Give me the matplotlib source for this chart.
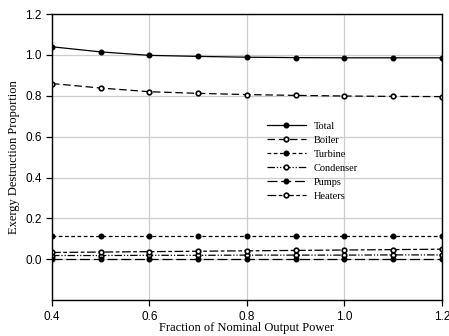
import matplotlib
matplotlib.use("Agg")
import matplotlib.pyplot as plt

# fraction of nominal output power
load = [0.4, 0.5, 0.6, 0.7, 0.8, 0.9, 1.0, 1.1, 1.2]

total = [1.040, 1.015, 0.998, 0.993, 0.989, 0.987, 0.986, 0.986, 0.986]
boiler = [0.860, 0.838, 0.820, 0.812, 0.806, 0.802, 0.799, 0.797, 0.796]
turbine = [0.113, 0.113, 0.113, 0.113, 0.113, 0.113, 0.113, 0.113, 0.113]
condenser = [0.018, 0.018, 0.019, 0.019, 0.020, 0.020, 0.020, 0.021, 0.021]
pumps = [0.002, 0.002, 0.002, 0.002, 0.002, 0.002, 0.002, 0.002, 0.002]
heaters = [0.033, 0.035, 0.037, 0.039, 0.041, 0.043, 0.045, 0.047, 0.049]

xticks = [0.4, 0.6, 0.8, 1.0, 1.2]
yticks = [0.0, 0.2, 0.4, 0.6, 0.8, 1.0, 1.2]

fig = plt.figure(figsize=(4.49, 3.36), dpi=100)
ax = fig.add_axes([0.1158, 0.107, 0.8686, 0.851])

filled = dict(marker="o", markersize=3.3, markerfacecolor="black", markeredgecolor="black", color="black", linewidth=0.9)
hollow = dict(marker="o", markersize=3.3, markerfacecolor="white", markeredgecolor="black", markeredgewidth=1.2,
              color="black", linewidth=0.9)

ax.plot(load, total, linestyle="-", label="Total", **filled)
ax.plot(load, boiler, linestyle=(0, (6, 3)), label="Boiler", **hollow)
ax.plot(load, turbine, linestyle=(0, (3, 2)), label="Turbine", **filled)
ax.plot(load, condenser, linestyle=(0, (6, 1.5, 1, 1.5, 1, 1.5)), label="Condenser", **hollow)
ax.plot(load, pumps, linestyle=(0, (8, 3)), label="Pumps", **filled)
ax.plot(load, heaters, linestyle=(0, (7, 2, 3, 2)), label="Heaters", **hollow)

ax.set_xlim(0.4, 1.2)
ax.set_ylim(-0.2, 1.2)
ax.set_xticks(xticks)
ax.set_yticks(yticks)
ax.set_xticklabels([f"{t:.1f}" for t in xticks], family="Liberation Sans", fontsize=8.5)
ax.set_yticklabels([f"{t:.1f}" for t in yticks], family="Liberation Sans", fontsize=8.5)
ax.tick_params(direction="out", length=4, width=0.9, colors="black")
ax.tick_params(axis="x", pad=4)
ax.grid(True, color="#cccccc", linewidth=0.9)
ax.set_axisbelow(True)
for s in ax.spines.values():
    s.set_linewidth(1.0)
    s.set_color("black")

ax.set_xlabel("Fraction of Nominal Output Power", family="Liberation Serif", fontsize=9, labelpad=-1)
ax.set_ylabel("Exergy Destruction Proportion", family="Liberation Serif", fontsize=9, labelpad=4)

ax.legend(loc="upper left", bbox_to_anchor=(0.541, 0.638), frameon=False,
          prop={"family": "Liberation Serif", "size": 7.5}, handlelength=3.7,
          labelspacing=0.45, handletextpad=0.75, borderaxespad=0)

fig.savefig("out.png", dpi=100)
